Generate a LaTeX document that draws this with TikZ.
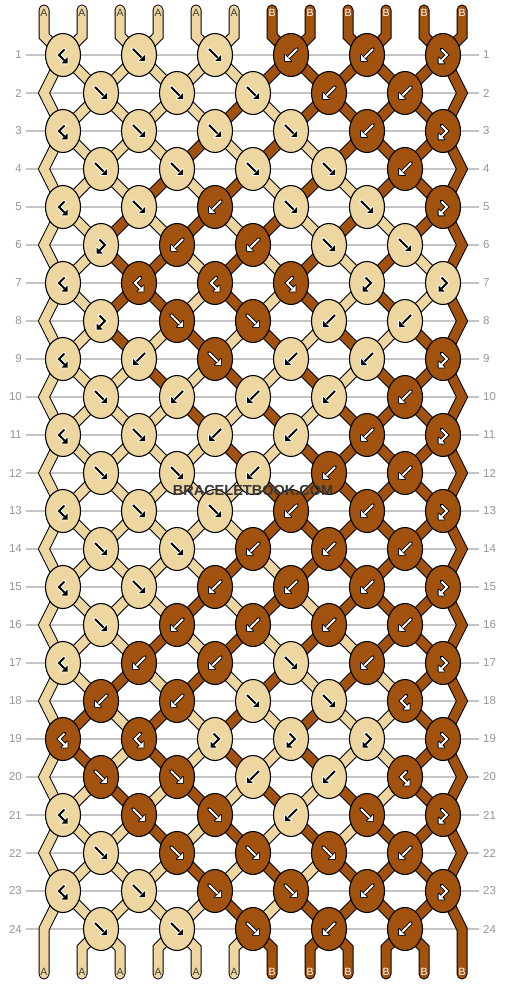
\documentclass[tikz,border=0pt]{standalone}
\usepackage{fontspec}
\setmainfont{Liberation Sans}
\usetikzlibrary{shapes.geometric}
\definecolor{tanc}{RGB}{238,214,160}
\definecolor{brownc}{RGB}{160,82,14}
\definecolor{gridc}{RGB}{196,196,196}
\definecolor{numc}{RGB}{150,150,150}
\definecolor{wmc}{RGB}{55,55,55}
\definecolor{labA}{RGB}{60,60,60}
\tikzset{
  gridline/.style={draw=gridc, line width=1.1},
  numl/.style={anchor=east, inner sep=0, text=numc, font=\fontsize{11.5}{12}\selectfont},
  numr/.style={anchor=west, inner sep=0, text=numc, font=\fontsize{11.5}{12}\selectfont},
  knotst/.style={ellipse, draw=black, line width=1.1, minimum width=35, minimum height=43, inner sep=0},
  gOut/.style={draw=\go, line width=3.8, line cap=round, line join=round},
  hOut/.style={draw=\go, fill=\go, line width=1.8, line join=round},
  gIn/.style={draw=\gm, line width=2, line cap=butt},
  endlab/.style={inner sep=0, font=\fontsize{10.5}{11}\selectfont},
}
\newcommand\glF{%
  \draw[gOut] (-6,-6) -- (2.5,2.5); \filldraw[hOut] (6,6) -- (6,0) -- (0,6) -- cycle;
  \draw[gIn] (-6,-6) -- (2.5,2.5); \fill[\gm] (6,6) -- (6,0) -- (0,6) -- cycle;}
\newcommand\glB{%
  \draw[gOut] (6,-6) -- (-2.5,2.5); \filldraw[hOut] (-6,6) -- (-6,0) -- (0,6) -- cycle;
  \draw[gIn] (6,-6) -- (-2.5,2.5); \fill[\gm] (-6,6) -- (-6,0) -- (0,6) -- cycle;}
% forward-backward: chevron ">" ending in a down-left head
\newcommand\glFB{%
  \draw[gOut, line join=miter] (-1.5,-5.5) -- (4,0) -- (-1.5,5.5); \filldraw[hOut] (-4.5,8.5) -- (-4.5,2.5) -- (1.5,8.5) -- cycle;
  \draw[gIn, line join=miter] (-1.5,-5.5) -- (4,0) -- (-1.5,5.5); \fill[\gm] (-4.5,8.5) -- (-4.5,2.5) -- (1.5,8.5) -- cycle;}
% backward-forward: chevron "<" ending in a down-right head
\newcommand\glBF{%
  \draw[gOut, line join=miter] (1.5,-5.5) -- (-4,0) -- (1.5,5.5); \filldraw[hOut] (4.5,8.5) -- (4.5,2.5) -- (-1.5,8.5) -- cycle;
  \draw[gIn, line join=miter] (1.5,-5.5) -- (-4,0) -- (1.5,5.5); \fill[\gm] (4.5,8.5) -- (4.5,2.5) -- (-1.5,8.5) -- cycle;}
\newcommand\bbknot[5]{%
  \ifnum#4=0 \def\kfill{tanc}\def\gm{black}\def\go{white}\else\def\kfill{brownc}\def\gm{white}\def\go{black}\fi
  \node[knotst, fill=\kfill] (#5) at (#1,#2) {};
  \begin{scope}[shift={(#1,#2)}]
    \ifcase#3\or\glF\or\glB\or\glFB\or\glBF\fi
  \end{scope}}
\def\rowtypes{{4,1,1,2,2,3},{1,1,1,2,2},{4,1,1,1,2,3},{1,1,1,1,2},
 {4,1,2,1,1,3},{3,2,2,1,1},{4,4,4,4,3,3},{3,1,1,2,2},
 {4,2,1,2,2,3},{1,2,2,2,2},{4,1,2,2,2,3},{1,1,2,2,2},
 {4,1,1,2,2,3},{1,1,2,2,2},{4,1,2,2,2,3},{1,2,2,2,2},
 {4,2,2,1,2,3},{2,2,1,1,4},{4,4,3,3,3,3},{1,1,2,2,4},
 {4,1,1,2,1,3},{1,1,1,1,2},{4,1,1,1,2,3},{1,1,1,2,2}}
\begin{document}
\begin{tikzpicture}[x=1pt,y=-1pt]
\fill[white] (0,0) rectangle (506,984);
\useasboundingbox (0,0) rectangle (506,984);
% grid lines and row numbers
\foreach \r in {1,...,24}{%
  \pgfmathtruncatemacro\yy{55+38*(\r-1)}%
  \coordinate (gl-\r) at (26,\yy);
  \coordinate (gr-\r) at (479,\yy);
  \draw[gridline] (gl-\r) -- (gr-\r);
  \node[numl] (nl-\r) at (22,\yy) {\r};
  \node[numr] (nr-\r) at (483,\yy) {\r};
}
% simulation of the strings
\foreach \s in {0,...,11}{%
  \pgfmathtruncatemacro\xs{44+38*\s}%
  \expandafter\xdef\csname sid\s\endcsname{\s}%
  \expandafter\xdef\csname pth\s\endcsname{(\xs,10) -- (\xs,36)}%
}
\gdef\knots{}
\foreach \kt [count=\r] in \rowtypes {%
  \pgfmathtruncatemacro\yy{55+38*(\r-1)}%
  \pgfmathtruncatemacro\odd{mod(\r,2)}%
  \foreach \p in {0,...,11}{%
    \pgfmathtruncatemacro\pe{mod(\p,2)}%
    \ifnum\odd=1
      \ifnum\pe=0 \pgfmathtruncatemacro\xx{63+38*\p}\else\pgfmathtruncatemacro\xx{25+38*\p}\fi
    \else
      \ifnum\pe=1 \pgfmathtruncatemacro\xx{63+38*\p}\else\pgfmathtruncatemacro\xx{25+38*\p}\fi
      \ifnum\p=0 \def\xx{44}\fi
      \ifnum\p=11 \def\xx{462}\fi
    \fi
    \edef\sS{\csname sid\p\endcsname}%
    \expandafter\xdef\csname pth\sS\endcsname{\csname pth\sS\endcsname\space -- (\xx,\yy)}%
  }%
  \foreach \ty [count=\k] in \kt {%
    \pgfmathtruncatemacro\pL{2*(\k-1)+1-\odd}%
    \pgfmathtruncatemacro\pR{\pL+1}%
    \edef\sL{\csname sid\pL\endcsname}%
    \edef\sR{\csname sid\pR\endcsname}%
    \ifnum\ty=1 \let\sK\sL\fi
    \ifnum\ty=3 \let\sK\sL\fi
    \ifnum\ty=2 \let\sK\sR\fi
    \ifnum\ty=4 \let\sK\sR\fi
    \ifnum\sK<6 \def\kc{0}\else\def\kc{1}\fi
    \pgfmathtruncatemacro\xx{44+38*\pL+19}%
    \xdef\knots{\unexpanded\expandafter{\knots}\noexpand\bbknot{\xx}{\yy}{\ty}{\kc}{k-\r-\k}}%
    \ifnum\ty<3
      \expandafter\xdef\csname sid\pL\endcsname{\sR}%
      \expandafter\xdef\csname sid\pR\endcsname{\sL}%
    \fi
  }%
}
\gdef\botlabels{}
\foreach \p in {0,...,11}{%
  \pgfmathtruncatemacro\xs{44+38*\p}%
  \edef\sS{\csname sid\p\endcsname}%
  \expandafter\xdef\csname pth\sS\endcsname{\csname pth\sS\endcsname\space -- (\xs,948) -- (\xs,974)}%
  \ifnum\sS<6
    \xdef\botlabels{\unexpanded\expandafter{\botlabels}\noexpand\node[endlab, text=labA] (bl-\p) at (\xs,972) {A};}%
  \else
    \xdef\botlabels{\unexpanded\expandafter{\botlabels}\noexpand\node[endlab, text=white] (bl-\p) at (\xs,972) {B};}%
  \fi
}
% strings: outlines, then fills
\foreach \s in {0,...,11}{%
  \edef\tmp{\noexpand\draw[line width=11, black, line cap=round, line join=miter] \csname pth\s\endcsname;}\tmp
}
\foreach \s in {0,...,11}{%
  \ifnum\s<6 \def\sc{tanc}\else\def\sc{brownc}\fi
  \edef\tmp{\noexpand\draw[line width=9, \sc, line cap=round, line join=miter] \csname pth\s\endcsname;}\tmp
}
% knots
\knots
% end labels
\foreach \s in {0,...,5}{%
  \pgfmathtruncatemacro\xs{44+38*\s}%
  \node[endlab, text=labA] (tl-\s) at (\xs,13) {A};
}
\foreach \s in {6,...,11}{%
  \pgfmathtruncatemacro\xs{44+38*\s}%
  \node[endlab, text=white] (tl-\s) at (\xs,13) {B};
}
\botlabels
% watermark
\node[font=\bfseries\fontsize{14.5}{15}\selectfont, text=wmc, inner sep=0] (wm) at (253,491) {BRACELETBOOK.COM};
\end{tikzpicture}
\end{document}
